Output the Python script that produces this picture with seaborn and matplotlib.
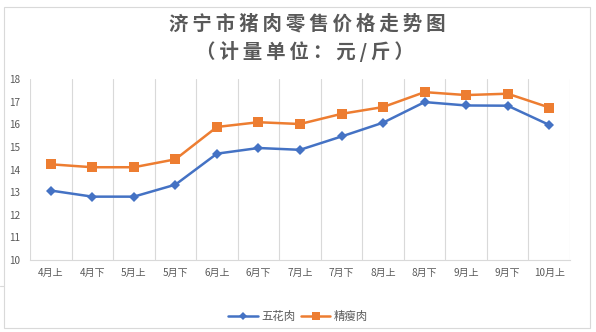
import numpy as np
import pandas as pd
import matplotlib
matplotlib.use("Agg")
import matplotlib.pyplot as plt
import seaborn as sns
from matplotlib.patches import Rectangle
from matplotlib.lines import Line2D

categories = ["4月上", "4月下", "5月上", "5月下", "6月上", "6月下", "7月上",
              "7月下", "8月上", "8月下", "9月上", "9月下", "10月上"]
wuhua = [13.07, 12.80, 12.80, 13.33, 14.70, 14.95, 14.87, 15.46, 16.07, 16.98, 16.83, 16.82, 15.97]
jingshou = [14.23, 14.10, 14.10, 14.45, 15.88, 16.09, 16.01, 16.46, 16.76, 17.42, 17.29, 17.35, 16.74]
series_names = ["五花肉", "精瘦肉"]
title_line1 = "济宁市猪肉零售价格走势图"
title_line2 = "（计量单位：元/斤）"

sns.set_theme(style="white")
plt.rcParams['font.family'] = ['Noto Sans CJK SC', 'DejaVu Sans']

df = pd.DataFrame({
    "period": categories * 2,
    "x": list(range(len(categories))) * 2,
    "price": wuhua + jingshou,
    "series": [series_names[0]] * len(categories) + [series_names[1]] * len(categories),
})

fig = plt.figure(figsize=(5.96, 3.32), dpi=100)
fig.patch.set_facecolor("white")
fig.add_artist(Rectangle((4 / 596, 1 - 328 / 332), 586 / 596, 321 / 332,
                         transform=fig.transFigure, fill=False,
                         edgecolor="#d9d9d9", linewidth=0.8))
fig.add_artist(Line2D([0, 4 / 596], [1 - 286 / 332, 1 - 286 / 332],
                      transform=fig.transFigure, color="#d9d9d9", linewidth=0.8))
ax = fig.add_axes([30 / 596, 1 - 260 / 332, 540 / 596, 181 / 332])

palette = {series_names[0]: "#4472C4", series_names[1]: "#ED7D31"}
markers = {series_names[0]: "D", series_names[1]: "s"}
sns.lineplot(data=df, x="x", y="price", hue="series", style="series",
             palette=palette, markers=markers, dashes=False, linewidth=1.8,
             markersize=6, markeredgewidth=0, ax=ax)
for line in ax.get_lines():
    if line.get_marker() == "s":
        line.set_markersize(7)
    elif line.get_marker() == "D":
        line.set_markersize(5.5)

ax.set_xlim(-0.5, len(categories) - 0.5)
ax.set_ylim(10, 18)
ax.set_yticks(range(10, 19))
ax.set_xticks(range(len(categories)))
ax.set_xticklabels(categories)
ax.set_xticks(np.arange(-0.5, len(categories), 1), minor=True)
ax.grid(False)
ax.grid(True, which="minor", axis="x", color="#d9d9d9", linewidth=0.8)
ax.tick_params(axis="both", which="both", length=0, labelsize=7.2, labelcolor="#595959")
ax.tick_params(axis="x", pad=6)
ax.tick_params(axis="y", pad=7)
ax.set_xlabel("")
ax.set_ylabel("")
for s in ["top", "right", "left"]:
    ax.spines[s].set_visible(False)
ax.spines["bottom"].set_color("#d9d9d9")
ax.spines["bottom"].set_linewidth(0.8)

leg = ax.legend(loc="center", ncol=2, frameon=False,
                fontsize=8.2, handlelength=2.6, columnspacing=0.5, handletextpad=0.3,
                labelcolor="#595959", markerscale=0.8)
leg.set_bbox_to_anchor((0.5, 1 - 316 / 332), transform=fig.transFigure)

sp = "\u2009"
fig.text(307 / 596, 1 - 24 / 332, sp.join(title_line1), ha="center", va="center",
         fontsize=14, fontweight="bold", color="#595959")
fig.text(305 / 596, 1 - 51 / 332, sp.join(title_line2), ha="center", va="center",
         fontsize=14, fontweight="bold", color="#595959")

fig.savefig("out.png", dpi=100, facecolor="white")
